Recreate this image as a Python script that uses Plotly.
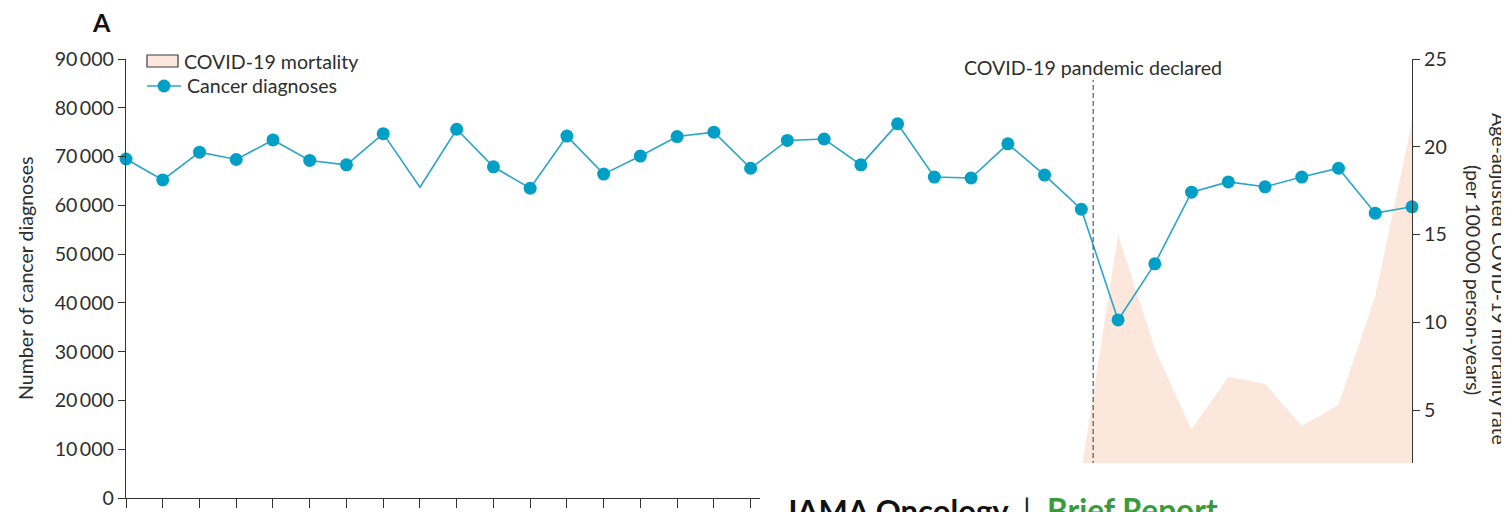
import plotly.graph_objects as go

# ---------------- data ----------------
months = [
    "Jan 2018", "Feb 2018", "Mar 2018", "Apr 2018", "May 2018", "Jun 2018",
    "Jul 2018", "Aug 2018", "Sep 2018", "Oct 2018", "Nov 2018", "Dec 2018",
    "Jan 2019", "Feb 2019", "Mar 2019", "Apr 2019", "May 2019", "Jun 2019",
    "Jul 2019", "Aug 2019", "Sep 2019", "Oct 2019", "Nov 2019", "Dec 2019",
    "Jan 2020", "Feb 2020", "Mar 2020", "Apr 2020", "May 2020", "Jun 2020",
    "Jul 2020", "Aug 2020", "Sep 2020", "Oct 2020", "Nov 2020", "Dec 2020",
]
cancer_diagnoses = [
    69500, 65200, 70900, 69400, 73400, 69200, 68300, 74700, 63700, 75600,
    67900, 63500, 74200, 66400, 70100, 74100, 75000, 67600, 73300, 73600,
    68300, 76700, 65800, 65600, 72600, 66200, 59200, 36500, 48000, 62700,
    64800, 63800, 65800, 67600, 58400, 59700,
]
covid_mortality = [
    None, None, None, None, None, None, None, None, None, None,
    None, None, None, None, None, None, None, None, None, None,
    None, None, None, None, None, None, 1.5, 15.0, 8.5, 3.9,
    6.9, 6.5, 4.1, 5.3, 11.5, 21.4,
]
months_without_marker = ["Sep 2018"]
pandemic_month = "Mar 2020"
pandemic_day, pandemic_month_days = 11, 31

left_ticks = [0, 10000, 20000, 30000, 40000, 50000, 60000, 70000, 80000, 90000]
right_ticks = [0, 5, 10, 15, 20, 25]

# ---------------- style ----------------
OFF = 8                      # default page margin of the html body
PAGE_W, PAGE_H = 1509, 512
W, H = PAGE_W - OFF, PAGE_H - OFF
PX0, PX1, PY0, PY1 = 126, 1412, 59, 498     # plot area in page pixels
L, T = PX0 - OFF, PY0 - OFF
PW, PH = PX1 - PX0, PY1 - PY0
R, B = W - L - PW, H - T - PH
FONT = "Lato"
FS = 19.6
TXT = "#2e2e2e"
AX = "#333333"
BLUE_LINE = "#2aa5c9"
BLUE_MK = "#00a0c6"
PEACH = "#fce7dd"


def px_x(px):
    return (px - PX0) / PW


def px_y(py):
    return (PY1 - py) / PH


def fmt(v):
    return f"{v:,}".replace(",", "\u2009")


sizes = [0 if m in months_without_marker else 13 for m in months]

fig = go.Figure()

# COVID-19 mortality on the primary (right-side) axis, so it sits below the line
fig.add_trace(go.Scatter(
    x=months, y=covid_mortality, yaxis="y", mode="lines",
    line=dict(width=0, color=PEACH), fill="tozeroy", fillcolor=PEACH,
    showlegend=False, hoverinfo="skip",
))
# Cancer diagnoses on the overlaying (left-side) axis, drawn on top
fig.add_trace(go.Scatter(
    x=months, y=cancer_diagnoses, yaxis="y2", mode="lines+markers",
    line=dict(color=BLUE_LINE, width=1.6),
    marker=dict(color=BLUE_MK, size=sizes, line=dict(width=0), opacity=1),
    showlegend=False, cliponaxis=False,
))

decl_x = months.index(pandemic_month) + (pandemic_day - 1) / pandemic_month_days

shapes = []
shapes.append(dict(type="line", xref="x", yref="paper", x0=decl_x, x1=decl_x,
                   y0=0, y1=px_y(80), line=dict(color="#4b5a66", width=1.2, dash="5px,3px")))
shapes.append(dict(type="rect", xref="paper", yref="paper",
                   x0=px_x(147), x1=px_x(178), y0=px_y(67), y1=px_y(55),
                   fillcolor=PEACH, line=dict(color="#3a3a3a", width=1.2)))
shapes.append(dict(type="line", xref="paper", yref="paper",
                   x0=px_x(147), x1=px_x(181), y0=px_y(86), y1=px_y(86),
                   line=dict(color=BLUE_LINE, width=1.6)))
shapes.append(dict(type="circle", xref="paper", yref="paper",
                   x0=px_x(157.5), x1=px_x(170.5), y0=px_y(92.5), y1=px_y(79.5),
                   fillcolor=BLUE_MK, line=dict(width=0)))
shapes.append(dict(type="rect", xref="paper", yref="paper", layer="above",
                   x0=px_x(760), x1=px_x(PAGE_W + 10), y0=px_y(PAGE_H + 10), y1=px_y(463),
                   fillcolor="white", line=dict(width=0)))


def ann(text, x, y, size=FS, color=TXT, xref="paper", angle=0, xanchor="center",
        yanchor="middle"):
    return dict(text=text, xref=xref, yref="paper", x=x, y=y, showarrow=False,
                textangle=angle, font=dict(family=FONT, size=size, color=color),
                xanchor=xanchor, yanchor=yanchor)


annotations = [
    ann("<b>A</b>", px_x(101), px_y(22), size=25, color="#111"),
    ann("COVID-19 mortality", px_x(182), px_y(61), xanchor="left"),
    ann("Cancer diagnoses", px_x(185), px_y(85), xanchor="left"),
    ann("COVID-19 pandemic declared", decl_x, px_y(68), xref="x"),
    ann("Number of cancer diagnoses", px_x(25), px_y(278), angle=-90),
    ann("Age-adjusted COVID-19 mortality rate", px_x(1500), px_y(279), angle=90),
    ann("(per 100\u2009000 person-years)", px_x(1474), px_y(280), angle=90),
    ann("<b>JAMA Oncology</b>", px_x(782), px_y(489), size=31, color="#111",
        xanchor="left", yanchor="top"),
    ann("|", px_x(1027), px_y(489), size=31, color="#222", yanchor="top"),
    ann("<b>Brief Report</b>", px_x(1045), px_y(489), size=31.5, color="#3a9a3c",
        xanchor="left", yanchor="top"),
]

axis_common = dict(showgrid=False, zeroline=False, showline=True, linecolor=AX,
                   linewidth=1.3, ticks="outside", ticklen=7, tickwidth=1.3,
                   tickcolor=AX, tickfont=dict(family=FONT, size=FS, color=TXT),
                   automargin=False)

fig.update_layout(
    width=W, height=H, template="none",
    margin=dict(l=L, r=R, t=T, b=B, autoexpand=False),
    paper_bgcolor="white", plot_bgcolor="white",
    font=dict(family=FONT, size=FS, color=TXT),
    showlegend=False,
    xaxis=dict(type="category", range=[0, len(months) - 1], showgrid=False, zeroline=False,
               showline=True, linecolor=AX, linewidth=1.3, ticks="outside", ticklen=9,
               tickwidth=1.3, tickcolor=AX, showticklabels=False, automargin=False),
    yaxis=dict(range=[0, 25], tickvals=right_ticks, ticktext=[str(v) for v in right_ticks],
               side="right", **axis_common),
    yaxis2=dict(range=[0, 90000], tickvals=left_ticks, ticktext=[fmt(v) for v in left_ticks],
                overlaying="y", side="left", **axis_common),
    shapes=shapes,
    annotations=annotations,
)

fig.write_html("out.html")
